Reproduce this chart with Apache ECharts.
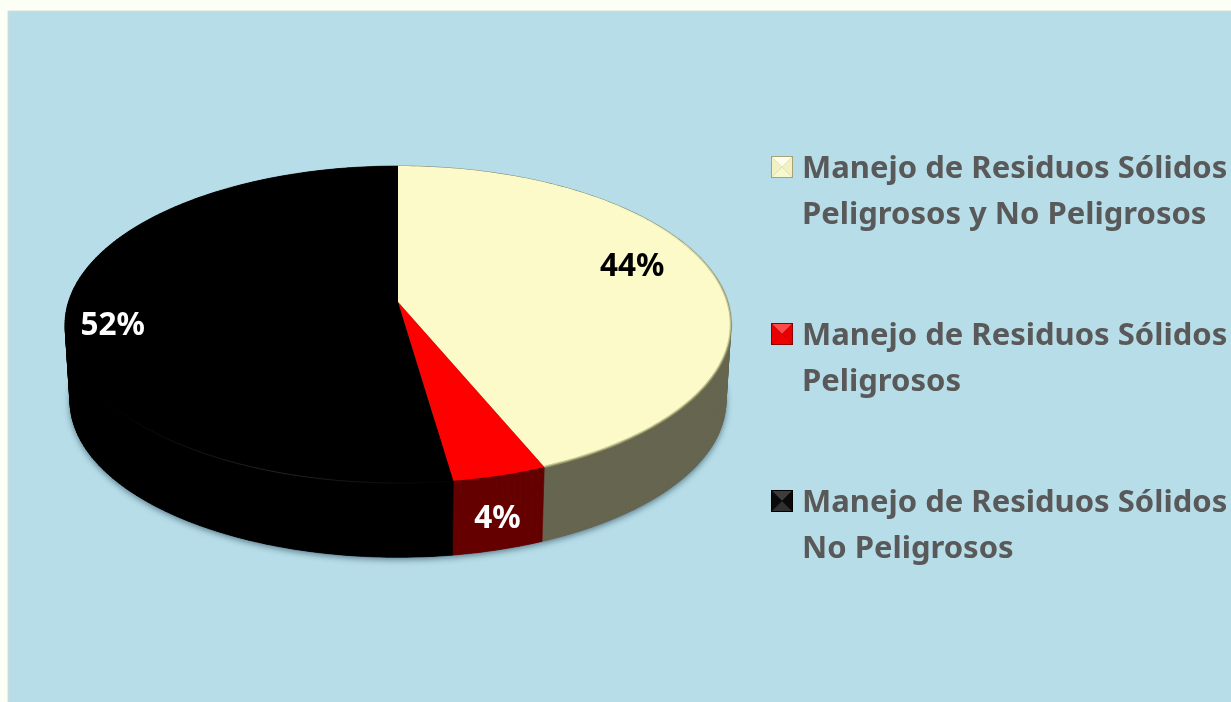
<!DOCTYPE html>
<html>
<head>
<meta charset="utf-8">
<style>
html, body { margin: 0; padding: 0; background: #fbfff5; }
#chart { width: 1231px; height: 702px; }
</style>
<script src="https://cdn.jsdelivr.net/npm/echarts@6/dist/echarts.min.js"></script>
</head>
<body>
<div id="chart"></div>
<script>
var categories = [
    'Manejo de Residuos Sólidos\nPeligrosos y No Peligrosos',
    'Manejo de Residuos Sólidos\nPeligrosos',
    'Manejo de Residuos Sólidos\nNo Peligrosos'
];
var values = [43.7, 4.0, 52.3];

var topColors = ['#fbfac8', '#ff0000', '#000000'];
var sideColors = ['#666650', '#640000', '#000000'];
var labelColors = ['#000000', '#ffffff', '#ffffff'];
// how far out along the slice's middle angle each label sits, and a vertical nudge
var labelReach = [0.74, 0.98, 0.86];
var labelLift = [-13, 48, 14];

// perspective disc: apex of the slices, radius, tilt and the smaller bottom face
var CX = 398, TOP_Y = 302, BOTTOM_Y = 379;
var RX = 329.6, RY = 155.3, K = 0.142, BOTTOM_SCALE = 0.985;

function project(deg, reach, bottom) {
    var a = deg * Math.PI / 180;
    var u = Math.sin(a) * reach;
    var v = -Math.cos(a) * reach;
    var w = 1 - K * v;
    var s = bottom ? BOTTOM_SCALE : 1;
    return [CX + s * RX * u / w, (bottom ? BOTTOM_Y : TOP_Y) + s * RY * v / w];
}

function arc(from, to, bottom) {
    var pts = [];
    var steps = Math.max(2, Math.ceil(to - from));
    for (var i = 0; i <= steps; i++) {
        pts.push(project(from + (to - from) * i / steps, 1, bottom));
    }
    return pts;
}

// soft highlight lines along the front rim
function rimLine(index, start, end) {
    if (index === 0) {
        return {
            type: 'polyline',
            z2: 3,
            shape: { points: arc(start + 45, end, false) },
            style: {
                fill: null,
                lineWidth: 2.5,
                stroke: {
                    type: 'linear', x: 0, y: 0, x2: 0, y2: 1,
                    colorStops: [
                        { offset: 0, color: 'rgba(150, 150, 100, 0)' },
                        { offset: 0.35, color: 'rgba(150, 150, 100, 0.5)' },
                        { offset: 1, color: 'rgba(170, 170, 115, 0.6)' }
                    ]
                }
            }
        };
    }
    if (index === 2) {
        return {
            type: 'polyline',
            z2: 3,
            shape: { points: arc(start, 236, false) },
            style: {
                fill: null,
                lineWidth: 1,
                stroke: {
                    type: 'linear', x: 0, y: 0, x2: 1, y2: 0,
                    colorStops: [
                        { offset: 0, color: 'rgba(255, 255, 255, 0)' },
                        { offset: 0.5, color: 'rgba(255, 255, 255, 0.14)' },
                        { offset: 1, color: 'rgba(255, 255, 255, 0)' }
                    ]
                }
            }
        };
    }
    return null;
}

function renderSlice(index) {
    return function (params, api) {
        var start = api.value(0) * 3.6;
        var end = start + api.value(1) * 3.6;
        var mid = (start + end) / 2;
        var labelAt = project(mid, labelReach[index], false);
        var topArc = arc(start, end, false);
        var bottomArc = arc(start, end, true);
        var children = [{
            // the bottom face only carries the shadow under the disc
            type: 'polygon',
            z2: 0,
            shape: { points: [[CX, BOTTOM_Y]].concat(bottomArc) },
            style: {
                fill: sideColors[index],
                shadowColor: 'rgba(20, 50, 70, 0.6)',
                shadowBlur: 6,
                shadowOffsetY: 2
            }
        }];
        for (var i = 0; i < topArc.length - 1; i++) {
            children.push({
                type: 'polygon',
                z2: 1,
                shape: { points: [topArc[i], topArc[i + 1], bottomArc[i + 1], bottomArc[i]] },
                style: { fill: sideColors[index], stroke: sideColors[index], lineWidth: 0.6 }
            });
        }
        children.push({
            type: 'polygon',
            z2: 2,
            shape: { points: [[CX, TOP_Y]].concat(topArc) },
            style: { fill: topColors[index] }
        });
        var rim = rimLine(index, start, end);
        if (rim) {
            children.push(rim);
        }
        children.push({
            type: 'text',
            z2: 5,
            style: {
                text: Math.round(api.value(1)) + '%',
                x: labelAt[0],
                y: labelAt[1] + labelLift[index],
                align: 'center',
                verticalAlign: 'middle',
                fill: labelColors[index],
                font: 'bold 31.5px "Noto Sans"'
            }
        });
        return { type: 'group', children: children };
    };
}

// the icon image is 4px taller than the square so the text sits 2px lower than its middle
function bevelIcon(edge, top, side, bottom) {
    var svg = '<svg xmlns="http://www.w3.org/2000/svg" width="22" height="26">' +
        '<rect width="22" height="22" fill="' + edge + '"/>' +
        '<polygon points="1,1 21,1 11,11" fill="' + top + '"/>' +
        '<polygon points="1,1 1,21 11,11" fill="' + side + '"/>' +
        '<polygon points="21,1 21,21 11,11" fill="' + side + '"/>' +
        '<polygon points="1,21 21,21 11,11" fill="' + bottom + '"/>' +
        '</svg>';
    return 'image://data:image/svg+xml,' + encodeURIComponent(svg);
}

var icons = [
    bevelIcon('#a8a278', '#ffffee', '#f3f1c4', '#f8f8d0'),
    bevelIcon('#8a0000', '#ff4a4a', '#e80000', '#f00000'),
    bevelIcon('#000000', '#3c3c3c', '#0a0a0a', '#303030')
];

var series = categories.map(function (name, i) {
    var before = 0;
    for (var j = 0; j < i; j++) {
        before += values[j];
    }
    return {
        name: name,
        type: 'custom',
        coordinateSystem: 'none',
        itemStyle: { color: topColors[i] },
        renderItem: renderSlice(i),
        data: [[before, values[i]]]
    };
});

var chart = echarts.init(document.getElementById('chart'), null, { renderer: 'canvas' });
chart.setOption({
    animation: false,
    backgroundColor: '#fbfff5',
    graphic: [{
        type: 'rect',
        z: -10,
        shape: { x: 8, y: 11, width: 1240, height: 700 },
        style: { fill: '#b7dde8', stroke: '#dcdcd2', lineWidth: 1 },
        silent: true
    }],
    legend: {
        orient: 'vertical',
        left: 771,
        top: 100,
        padding: 0,
        itemWidth: 22,
        itemHeight: 26,
        itemGap: 29,
        selectedMode: false,
        data: categories.map(function (name, i) {
            return { name: name, icon: icons[i] };
        }),
        // the blank first line keeps the icon beside the first line of text
        formatter: function (name) {
            return '\n' + name;
        },
        textStyle: {
            color: '#595959',
            fontFamily: 'Noto Sans',
            fontWeight: 'bold',
            fontSize: 31,
            lineHeight: 46,
            padding: [0, 0, 0, 4]
        }
    },
    series: series
});
</script>
</body>
</html>
